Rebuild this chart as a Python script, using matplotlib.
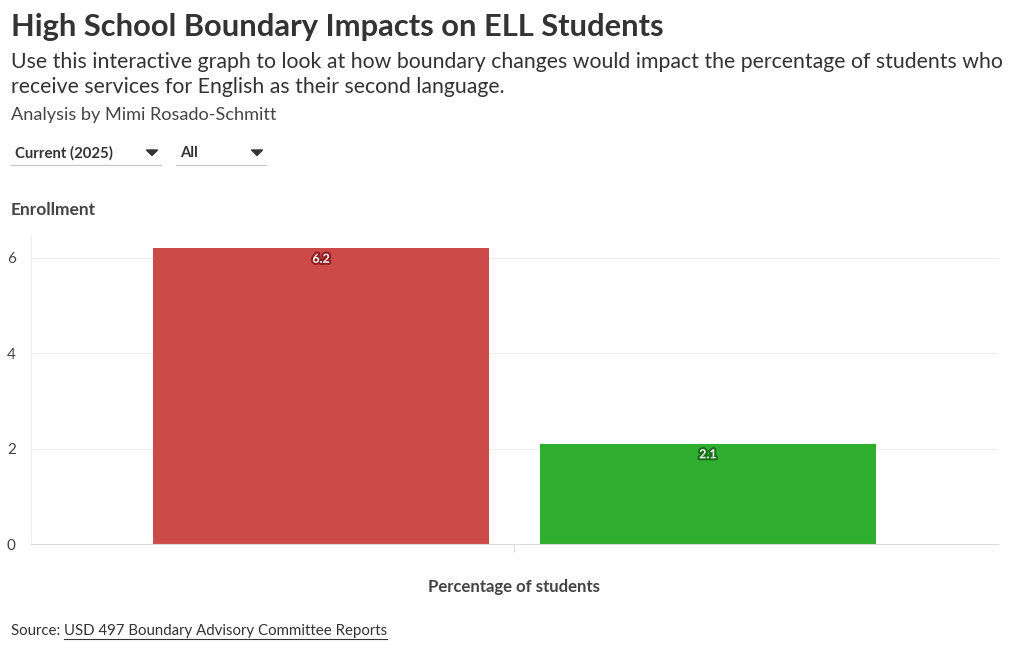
import matplotlib
matplotlib.use("Agg")
import matplotlib.pyplot as plt
import matplotlib.patheffects as pe
from matplotlib.patches import Polygon

plt.rcParams['font.family'] = ['Lato', 'DejaVu Sans']

# data
group_label = "Percentage of students"
series_names = ["Current", "Proposed"]
values = [6.2, 2.1]
bar_colors = ["#cc4a4a", "#2fae2f"]
label_edges = ["#8e1f1f", "#1a6e1a"]
y_ticks = [0, 2, 4, 6]

W, H = 1020, 650
fig = plt.figure(figsize=(W / 100, H / 100), dpi=100)

def fx(px):
    return px / W

def fy(py):
    return 1 - py / H

# header texts
fig.text(fx(11), fy(27), "High School Boundary Impacts on ELL Students",
         fontsize=22.2, fontweight="bold", color="#333333", va="center")
fig.text(fx(11), fy(62), "Use this interactive graph to look at how boundary changes would impact the percentage of students who",
         fontsize=15.33, color="#333333", va="center")
fig.text(fx(11), fy(87), "receive services for English as their second language.",
         fontsize=15.33, color="#333333", va="center")
fig.text(fx(11), fy(115), "Analysis by Mimi Rosado-Schmitt",
         fontsize=13.1, color="#444444", va="center")

# fake dropdowns
for txt, x0, x1 in [("Current (2025)", 11, 161), ("All", 176, 266)]:
    fig.text(fx(x0 + 4), fy(153), txt, fontsize=10.7, fontweight="bold",
             color="#333333", va="center")
    cx = x1 - 9
    tri = Polygon([[fx(cx - 5.5), fy(150)], [fx(cx + 5.5), fy(150)], [fx(cx), fy(155.5)]],
                  closed=True, color="#333333", transform=fig.transFigure)
    fig.add_artist(tri)
    fig.add_artist(plt.Line2D([fx(x0), fx(x1)], [fy(165), fy(165)],
                              color="#cccccc", lw=1))

fig.text(fx(11), fy(210), "Enrollment", fontsize=12.5, fontweight="bold",
         color="#444444", va="center")

# axes
ax = fig.add_axes([fx(31), fy(544), fx(998) - fx(31), (544 - 235) / H])
offsets = [-0.2, 0.2]
width = 0.3475
for off, v, c, ec in zip(offsets, values, bar_colors, label_edges):
    ax.bar(off, v, width=width, color=c, zorder=2)
    ax.annotate(f"{v}", (off, v), xytext=(0, -7.5), textcoords="offset points",
                ha="center", va="center", fontsize=9, fontweight="bold",
                color="white",
                path_effects=[pe.withStroke(linewidth=3, foreground=ec)])

ax.set_xlim(-0.5, 0.5)
ax.set_ylim(0, 6.48)
ax.set_yticks(y_ticks)
ax.set_yticklabels([str(t) for t in y_ticks])
ax.set_xticks([0])
ax.set_xticklabels([""])
ax.tick_params(axis="y", length=0, pad=11, labelsize=11, labelcolor="#444444")
ax.tick_params(axis="x", length=6, color="#dddddd")
ax.grid(axis="y", color="#eeeeee", lw=0.8, zorder=0)
for s in ["top", "right"]:
    ax.spines[s].set_visible(False)
ax.spines["left"].set_color("#eeeeee")
ax.spines["bottom"].set_color("#dddddd")
ax.set_xlabel(group_label, fontsize=12.1, fontweight="bold", color="#444444",
              labelpad=15.5)

# source
src = fig.text(fx(11), fy(631), "Source: ", fontsize=10.8, color="#333333", va="center")
fig.canvas.draw()
bb = src.get_window_extent()
link = fig.text(bb.x1 / W, fy(631), "USD 497 Boundary Advisory Committee Reports",
                fontsize=10.8, color="#333333", va="center")
fig.canvas.draw()
lb = link.get_window_extent()
fig.add_artist(plt.Line2D([lb.x0 / W, lb.x1 / W], [(lb.y0 - 1) / H] * 2,
                          color="#333333", lw=0.8))

fig.savefig("out.png", dpi=100)
